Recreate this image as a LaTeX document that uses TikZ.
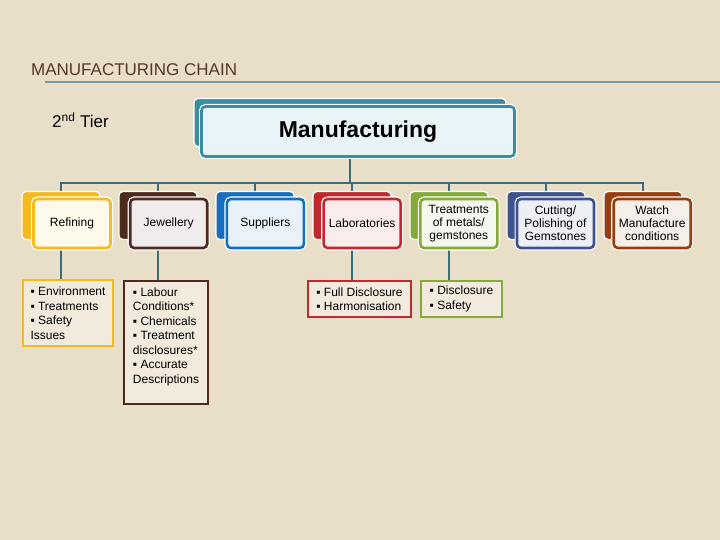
\documentclass[tikz,border=0pt]{standalone}
\usepackage{fontspec}
\setmainfont{Liberation Sans}
\usetikzlibrary{positioning}
\usetikzlibrary{backgrounds}
\definecolor{bgbeige}{RGB}{233,223,200}
\definecolor{titlebrown}{RGB}{85,55,40}
\definecolor{ruleteal}{RGB}{120,155,160}
\definecolor{busteal}{RGB}{55,110,122}
\definecolor{manteal}{RGB}{58,140,162}
\definecolor{manfill}{RGB}{232,243,247}
\definecolor{listfill}{RGB}{241,234,221}
\definecolor{cRefining}{RGB}{245,186,30}
\definecolor{cJewellery}{RGB}{78,42,30}
\definecolor{cSuppliers}{RGB}{22,110,190}
\definecolor{cLabs}{RGB}{190,42,46}
\definecolor{cTreat}{RGB}{132,170,60}
\definecolor{cCutting}{RGB}{62,82,142}
\definecolor{cWatch}{RGB}{150,62,16}

\begin{document}
\begin{tikzpicture}[x=1pt, y=-1pt,
backnode/.style={rectangle, rounded corners=4pt, draw=white, line width=1.2pt, fill=#1, minimum width=78pt, minimum height=48pt},
frontnode/.style={rectangle, rounded corners=4pt, preaction={draw=white, line width=5pt}, draw=#1, fill=#1!9!white, line width=2.6pt, minimum width=77pt, minimum height=49pt, align=center, font=\fontsize{12}{13}\selectfont},
listnode/.style={rectangle, draw=#1, fill=listfill, line width=2pt, align=left, inner sep=0pt, font=\fontsize{12}{14.5}\selectfont},
link/.style={draw=busteal, line width=2.5pt},
]
\useasboundingbox (0,0) rectangle (720,540);
\begin{pgfonlayer}{background}
\fill[bgbeige] (0,0) rectangle (720,540);
\end{pgfonlayer}

%Title
\node[anchor=base west, text=titlebrown, font=\fontsize{17}{17}\selectfont, inner sep=0pt] at (31,76) (title) {MANUFACTURING CHAIN};
\draw[ruleteal, line width=1.5pt] (45,82) -- (720,82);
\node[anchor=base west, font=\fontsize{17}{17}\selectfont, inner sep=0pt] at (52,128) (tier) {2\textsuperscript{nd} Tier};

%Nodes
\node[backnode=manteal, minimum width=312pt, minimum height=48pt] at (350,122.5) (back_manuf) {};
\node[frontnode=manteal, fill=manfill, minimum width=313pt, minimum height=50pt, font=\bfseries\fontsize{23}{23}\selectfont] at (358,131.5) (front_manuf) {Manufacturing};

\node[backnode=cRefining]   at (61,215.5)  (back_refining)   {};
\node[frontnode=cRefining]  at (72,223.5)  (front_refining)  {Refining};

\node[backnode=cJewellery]  at (158,215.5) (back_jewellery)  {};
\node[frontnode=cJewellery] at (168.7,223.5) (front_jewellery) {Jewellery};

\node[backnode=cSuppliers]  at (255,215.5) (back_suppliers)  {};
\node[frontnode=cSuppliers] at (265.4,223.5) (front_suppliers) {Suppliers};

\node[backnode=cLabs]       at (352,215.5) (back_labs)       {};
\node[frontnode=cLabs]      at (362.1,223.5) (front_labs)    {Laboratories};

\node[backnode=cTreat]      at (449,215.5) (back_treat)      {};
\node[frontnode=cTreat]     at (458.8,223.5) (front_treat)   {Treatments\\of metals/\\gemstones};

\node[backnode=cCutting]    at (546,215.5) (back_cutting)    {};
\node[frontnode=cCutting]   at (555.5,223.5) (front_cutting) {Cutting/\\Polishing of\\Gemstones};

\node[backnode=cWatch]      at (643,215.5) (back_watch)      {};
\node[frontnode=cWatch]     at (652.2,223.5) (front_watch)   {Watch\\Manufacture\\conditions};

\node[listnode=cRefining, minimum width=90pt, minimum height=66pt] at (68,313) (list_refining)
  {▪ Environment\\▪ Treatments\\▪ Safety\\Issues};
\node[listnode=cJewellery, minimum width=84pt, minimum height=123pt] at (166,342.5) (list_jewellery)
  {▪ Labour\\Conditions*\\▪ Chemicals\\▪ Treatment\\disclosures*\\▪ Accurate\\Descriptions\\\mbox{}};
\node[listnode=cLabs, minimum width=103pt, minimum height=36pt] at (359.5,299) (list_labs)
  {▪ Full Disclosure\\▪ Harmonisation};
\node[listnode=cTreat, minimum width=81pt, minimum height=36pt] at (461.5,299) (list_treat)
  {▪ Disclosure\\▪ Safety};

\coordinate (bus) at (350,183);

%Lines
\begin{pgfonlayer}{background}
\draw[link] (back_manuf.south) -- (bus);
\foreach \n in {refining,jewellery,suppliers,labs,treat,cutting,watch}
  \draw[link] (bus) -| (back_\n.north);
\foreach \n in {refining,jewellery,labs,treat}
  \draw[link] (back_\n.south) -- (back_\n.south |- list_\n.north);
\end{pgfonlayer}

\end{tikzpicture}
\end{document}
